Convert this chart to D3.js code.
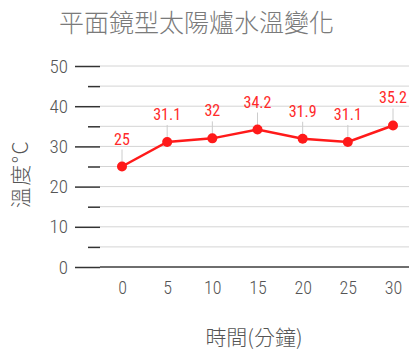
<!DOCTYPE html>
<html><head><meta charset="utf-8">
<script src="https://cdn.jsdelivr.net/npm/d3@7"></script>
<style>body{margin:0;background:#fff;}svg{display:block;}</style>
</head><body>
<svg id="c" width="409" height="353"></svg>
<script>
const title = "平面鏡型太陽爐水溫變化";
const xLabel = "時間(分鐘)";
const yLabel = "溫度°C";
const times = [0, 5, 10, 15, 20, 25, 30];
const temps = [25, 31.1, 32, 34.2, 31.9, 31.1, 35.2];
const yMajorTicks = [0, 10, 20, 30, 40, 50];
const yMinorTicks = [5, 15, 25, 35, 45];

const svg = d3.select("#c");
const numFont = "'Roboto Condensed','Liberation Sans Narrow',sans-serif";
const cjkFont = "'Noto Sans CJK TC','Noto Sans CJK SC',sans-serif";

const x = d3.scalePoint().domain(times).range([122, 393]);
const y = d3.scaleLinear().domain([0, 50]).range([267, 66]);

// grid
svg.append("g").selectAll("line").data(yMajorTicks.concat(yMinorTicks)).join("line")
  .attr("x1", 100).attr("x2", 409)
  .attr("y1", d => y(d)).attr("y2", d => y(d))
  .attr("stroke", "#d4d4d4").attr("stroke-width", 1);

// major ticks
const yAxisMajor = d3.axisLeft(y).tickValues(yMajorTicks).tickSize(25).tickPadding(7);
const gMaj = svg.append("g").attr("transform", "translate(100,0)").call(yAxisMajor);
gMaj.select(".domain").remove();
gMaj.selectAll("line").attr("stroke", "#333").attr("stroke-width", 1.5);
gMaj.selectAll("text").attr("font-family", numFont).attr("font-size", 19).attr("font-weight", 300).attr("fill", "#555");

const yAxisMinor = d3.axisLeft(y).tickValues(yMinorTicks).tickSize(12).tickFormat("");
const gMin = svg.append("g").attr("transform", "translate(100,0)").call(yAxisMinor);
gMin.select(".domain").remove();
gMin.selectAll("line").attr("stroke", "#333").attr("stroke-width", 1.5);

// baseline
svg.append("line").attr("x1", 100).attr("x2", 409).attr("y1", y(0)).attr("y2", y(0))
  .attr("stroke", "#444").attr("stroke-width", 1.5);

// x axis
const xAxis = d3.axisBottom(x).tickSize(0).tickPadding(14);
const gx = svg.append("g").attr("transform", `translate(0,${y(0)})`).call(xAxis);
gx.select(".domain").remove();
gx.selectAll("text").attr("font-family", numFont).attr("font-size", 18).attr("font-weight", 300).attr("fill", "#555");

// title
svg.append("text").attr("x", 59).attr("y", 32).text(title)
  .attr("font-family", cjkFont).attr("font-size", 25).attr("font-weight", 300).attr("fill", "#7a7a7a");

// axis labels
svg.append("text").attr("x", 254).attr("y", 345).attr("text-anchor", "middle").text(xLabel)
  .attr("font-family", cjkFont).attr("font-size", 21).attr("font-weight", 300).attr("fill", "#555");
svg.append("text").attr("transform", "translate(28,174) rotate(-90)").attr("text-anchor", "middle").text(yLabel)
  .attr("font-family", cjkFont).attr("font-size", 21).attr("font-weight", 300).attr("letter-spacing", 1.5).attr("fill", "#555");

const data = times.map((t, i) => ({t, v: temps[i]}));

// leader lines
svg.append("g").selectAll("line").data(data).join("line")
  .attr("x1", d => x(d.t)).attr("x2", d => x(d.t))
  .attr("y1", d => y(d.v) - 17).attr("y2", d => y(d.v))
  .attr("stroke", "#ccc").attr("stroke-width", 1);

// line
svg.append("path").datum(data)
  .attr("d", d3.line().x(d => x(d.t)).y(d => y(d.v)))
  .attr("fill", "none").attr("stroke", "#ff1a1a").attr("stroke-width", 2.5);

svg.append("g").selectAll("circle").data(data).join("circle")
  .attr("cx", d => x(d.t)).attr("cy", d => y(d.v)).attr("r", 5)
  .attr("fill", "#ff1a1a");

svg.append("g").selectAll("text").data(data).join("text")
  .attr("x", d => x(d.t)).attr("y", d => y(d.v) - 22)
  .attr("text-anchor", "middle").text(d => d.v)
  .attr("font-family", numFont).attr("font-size", 16).attr("font-weight", 400).attr("fill", "#ff2a2a");
</script>
</body></html>
